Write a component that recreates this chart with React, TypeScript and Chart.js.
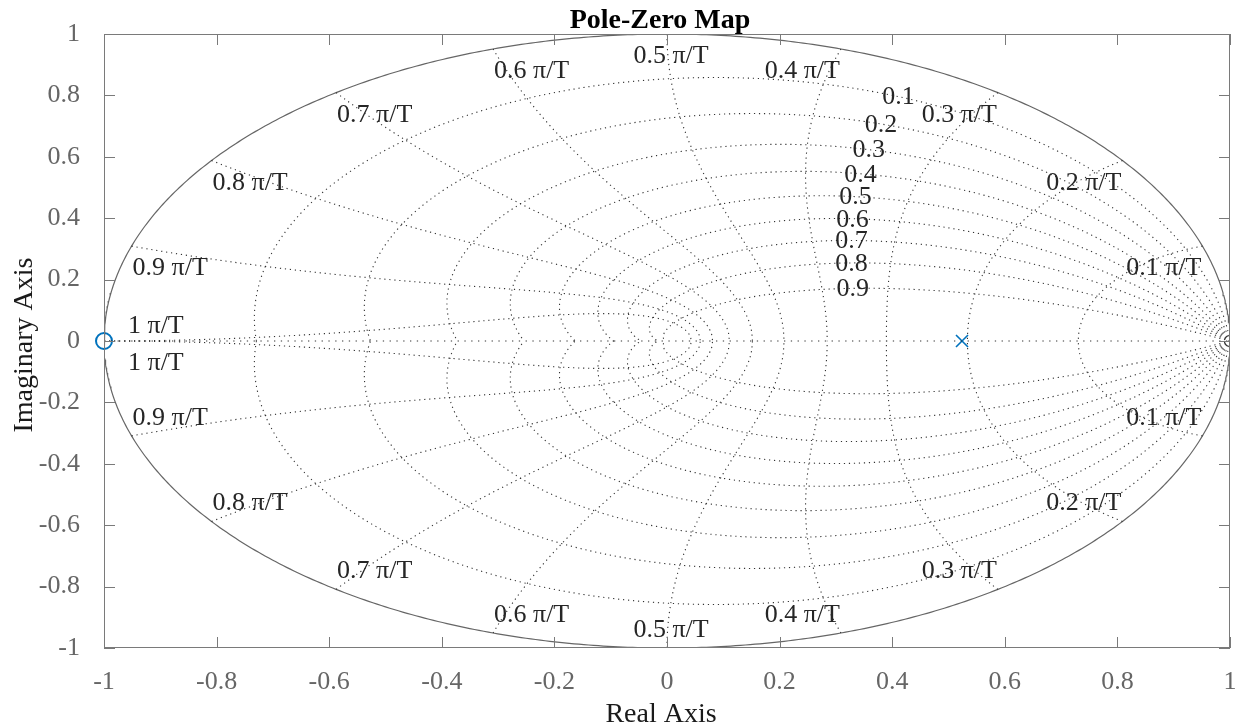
import React, { useEffect, useRef } from "react";
import { Chart, registerables } from "chart.js";
Chart.register(...registerables);

// ---- data ----
const zetaValues = [0.1, 0.2, 0.3, 0.4, 0.5, 0.6, 0.7, 0.8, 0.9];
const wnValues = [0.1, 0.2, 0.3, 0.4, 0.5, 0.6, 0.7, 0.8, 0.9, 1.0]; // in units of pi/T
const xTicks = [-1, -0.8, -0.6, -0.4, -0.2, 0, 0.2, 0.4, 0.6, 0.8, 1];
const yTicks = [-1, -0.8, -0.6, -0.4, -0.2, 0, 0.2, 0.4, 0.6, 0.8, 1];
const poleRe = [0.524];
const poleIm = [0];
const zeroRe = [-1];
const zeroIm = [0];
const zetaLabelWn = 0.35; // damping labels sit on this natural frequency (pi/T)

const titleText = "Pole-Zero Map";
const xTitle = "Real Axis";
const yTitle = "Imaginary Axis";

const SERIF = "'Liberation Serif', 'Times New Roman', serif";
const DOT = "rgba(40,40,40,0.95)";
const BLUE = "#0072BD";

function fmt(v: number) {
  const r = Math.round(v * 10) / 10;
  return Number.isInteger(r) ? String(r) : r.toFixed(1);
}

function zetaCurve(z: number, sign: number) {
  const m = Math.tan(Math.asin(z));
  const pts: { x: number; y: number }[] = [];
  const N = 300;
  for (let i = 0; i <= N; i++) {
    const th = (Math.PI * i) / N;
    const r = Math.exp(-m * th);
    pts.push({ x: r * Math.cos(th), y: sign * r * Math.sin(th) });
  }
  return pts;
}

function wnCurve(w: number, sign: number) {
  const wn = w * Math.PI;
  const pts: { x: number; y: number }[] = [];
  const N = 200;
  for (let i = 0; i <= N; i++) {
    const zt = i / N;
    const re = -zt * wn;
    const im = wn * Math.sqrt(Math.max(0, 1 - zt * zt));
    const r = Math.exp(re);
    pts.push({ x: r * Math.cos(im), y: sign * r * Math.sin(im) });
  }
  return pts;
}

function unitCircle() {
  const pts: { x: number; y: number }[] = [];
  for (let i = 0; i <= 720; i++) {
    const a = (2 * Math.PI * i) / 720;
    pts.push({ x: Math.cos(a), y: Math.sin(a) });
  }
  return pts;
}

const dotted = (data: any, dash: number[] = [1.2, 3.8]) => ({
  data,
  showLine: true,
  borderColor: DOT,
  borderWidth: 1.1,
  borderDash: dash,
  pointRadius: 0,
  fill: false,
  tension: 0,
});

const overlay = {
  id: "pzOverlay",
  afterDatasetsDraw(chart: any) {
    const ctx = chart.ctx;
    const xs = chart.scales.x;
    const ys = chart.scales.y;
    const px = (v: number) => xs.getPixelForValue(v);
    const py = (v: number) => ys.getPixelForValue(v);
    ctx.save();
    ctx.fillStyle = "#262626";
    ctx.font = `26px ${SERIF}`;
    // damping labels
    ctx.textAlign = "center";
    ctx.textBaseline = "middle";
    zetaValues.forEach((z) => {
      const wn = zetaLabelWn * Math.PI;
      const r = Math.exp(-z * wn);
      const a = wn * Math.sqrt(1 - z * z);
      ctx.fillText(fmt(z), px(r * Math.cos(a)), py(r * Math.sin(a)) + 1);
    });
    // natural frequency labels
    ctx.textBaseline = "alphabetic";
    wnValues.forEach((w) => {
      const a = w * Math.PI;
      const cx = px(Math.cos(a));
      const cyU = py(Math.sin(a));
      const cyL = py(-Math.sin(a));
      const label = `${fmt(w)} \u03C0/T`;
      if (Math.abs(w - 1) < 1e-9) {
        ctx.textAlign = "left";
        ctx.fillText(label, cx + 24, cyU - 8);
        ctx.fillText(label, cx + 24, cyL + 29);
        return;
      }
      const c = Math.cos(a);
      let x = cx;
      if (c > 0.01) {
        ctx.textAlign = "right";
        x = cx - 1;
      } else if (c < -0.01) {
        ctx.textAlign = "left";
        x = cx + 1;
      } else {
        ctx.textAlign = "center";
        x = cx + 4;
      }
      ctx.fillText(label, x, cyU + 29);
      ctx.fillText(label, x, cyL - 11);
    });
    ctx.restore();
  },
  afterDraw(chart: any) {
    const ctx = chart.ctx;
    const { left, right, top, bottom } = chart.chartArea;
    const xs = chart.scales.x;
    const ys = chart.scales.y;
    ctx.save();
    ctx.strokeStyle = "#7a7a7a";
    ctx.lineWidth = 1;
    ctx.strokeRect(left + 0.5, top + 0.5, right - left - 1, bottom - top - 1);
    const TL = 11;
    ctx.beginPath();
    xTicks.forEach((v) => {
      const x = Math.round(xs.getPixelForValue(v)) + 0.5;
      ctx.moveTo(x, bottom);
      ctx.lineTo(x, bottom - TL);
      ctx.moveTo(x, top);
      ctx.lineTo(x, top + TL);
    });
    yTicks.forEach((v) => {
      const y = Math.round(ys.getPixelForValue(v)) + 0.5;
      ctx.moveTo(left, y);
      ctx.lineTo(left + TL, y);
      ctx.moveTo(right, y);
      ctx.lineTo(right - TL, y);
    });
    ctx.stroke();
    // titles
    ctx.fillStyle = "#000";
    ctx.font = `bold 28px ${SERIF}`;
    ctx.textAlign = "center";
    ctx.textBaseline = "alphabetic";
    ctx.fillText(titleText, (left + right) / 2 - 7, 28);
    ctx.fillStyle = "#1a1a1a";
    ctx.font = `28px ${SERIF}`;
    ctx.fillText(xTitle, (left + right) / 2 - 6, 722);
    ctx.translate(32, (top + bottom) / 2 + 4);
    ctx.rotate(-Math.PI / 2);
    ctx.fillText(yTitle, 0, 0);
    ctx.restore();
  },
};

export default function App() {
  const ref = useRef<HTMLCanvasElement>(null);
  useEffect(() => {
    if (!ref.current) return;
    const datasets: any[] = [];
    zetaValues.forEach((z) => {
      datasets.push(dotted(zetaCurve(z, 1)));
      datasets.push(dotted(zetaCurve(z, -1)));
    });
    wnValues.forEach((w) => {
      datasets.push(dotted(wnCurve(w, 1)));
      datasets.push(dotted(wnCurve(w, -1)));
    });
    datasets.push(dotted([{ x: -1, y: 0 }, { x: 1, y: 0 }], [1.3, 5.5]));
    datasets.push({
      data: unitCircle(),
      showLine: true,
      borderColor: "#666666",
      borderWidth: 1.2,
      pointRadius: 0,
      fill: false,
    });
    datasets.push({
      data: poleRe.map((x, i) => ({ x, y: poleIm[i] })),
      showLine: false,
      pointStyle: "crossRot",
      pointRadius: 8.5,
      borderColor: BLUE,
      borderWidth: 1.6,
      clip: false,
    });
    datasets.push({
      data: zeroRe.map((x, i) => ({ x, y: zeroIm[i] })),
      showLine: false,
      pointStyle: "circle",
      pointRadius: 8,
      borderColor: BLUE,
      backgroundColor: "rgba(0,0,0,0)",
      borderWidth: 2,
      clip: false,
    });

    const tickFont = { family: SERIF, size: 26 };
    const chart = new Chart(ref.current, {
      type: "scatter",
      data: { datasets },
      plugins: [overlay],
      options: {
        animation: false,
        responsive: false,
        devicePixelRatio: 1,
        events: [],
        layout: { padding: { top: 34, right: 13, left: 0, bottom: 0 } },
        plugins: {
          legend: { display: false },
          tooltip: { enabled: false },
          title: { display: false },
        },
        scales: {
          x: {
            type: "linear",
            min: -1,
            max: 1,
            grid: { display: false },
            border: { display: false },
            afterBuildTicks: (s: any) => {
              s.ticks = xTicks.map((v) => ({ value: v }));
            },
            afterFit: (s: any) => {
              s.height = 79;
              s.paddingRight = 0;
              s.paddingLeft = 0;
            },
            ticks: {
              font: tickFont,
              color: "#666666",
              padding: 11,
              maxRotation: 0,
              autoSkip: false,
              callback: (v: any) => fmt(Number(v)),
            },
          },
          y: {
            type: "linear",
            min: -1,
            max: 1,
            grid: { display: false },
            border: { display: false },
            afterBuildTicks: (s: any) => {
              s.ticks = yTicks.map((v) => ({ value: v }));
            },
            afterFit: (s: any) => {
              s.width = 104;
              s.paddingTop = 0;
              s.paddingBottom = 0;
            },
            ticks: {
              font: tickFont,
              color: "#666666",
              padding: 16,
              autoSkip: false,
              callback: (v: any) => fmt(Number(v)),
            },
          },
        },
      } as any,
    });
    return () => chart.destroy();
  }, []);
  return (
    <div style={{ position: "absolute", left: 0, top: 0, width: 1243, height: 727, background: "#fff" }}>
      <canvas ref={ref} width={1243} height={727} style={{ display: "block" }} />
    </div>
  );
}
